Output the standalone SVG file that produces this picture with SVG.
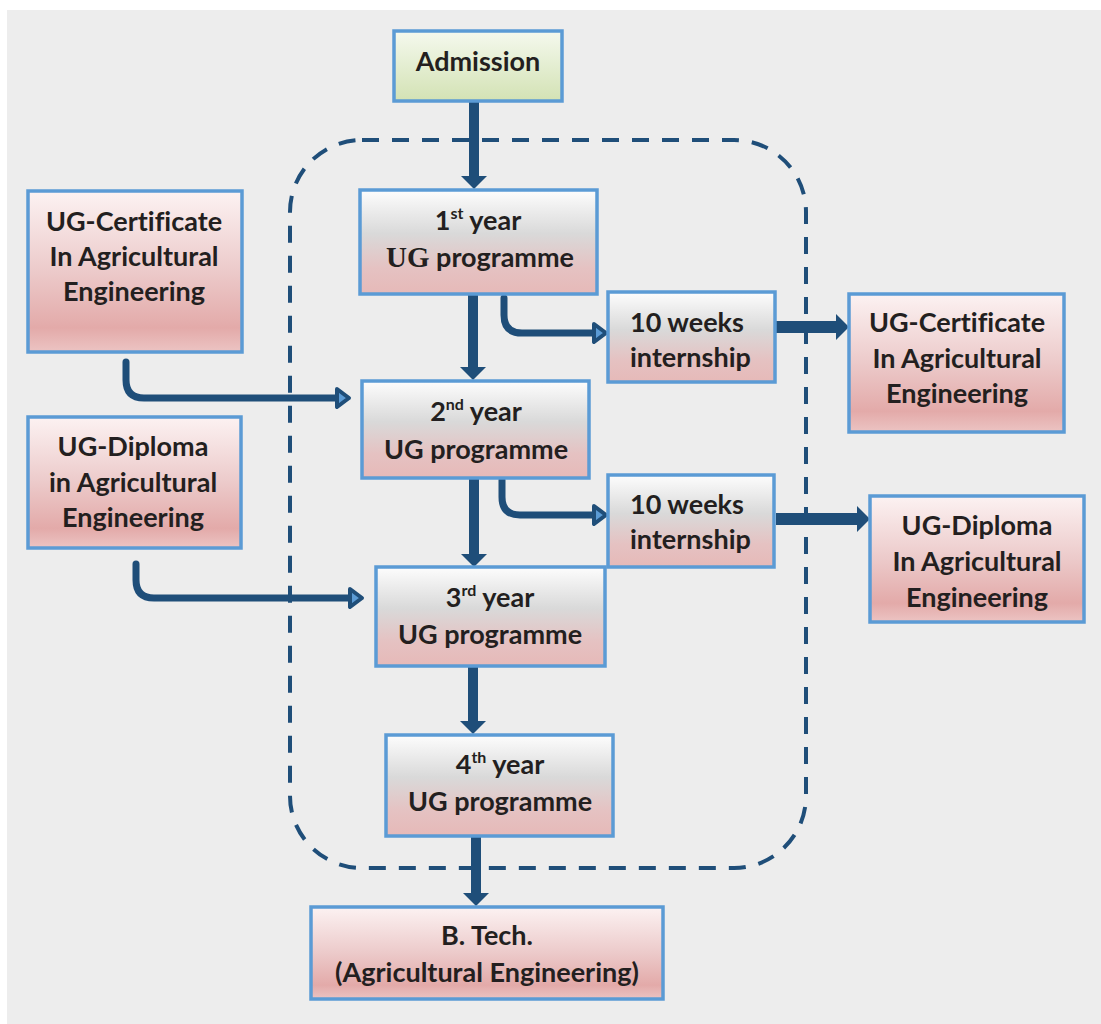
<svg xmlns="http://www.w3.org/2000/svg" width="1101" height="1024" viewBox="0 0 1101 1024">
<defs>
<linearGradient id="gPink" x1="0" y1="0" x2="0" y2="1">
<stop offset="0" stop-color="#fcf2f2"/>
<stop offset="0.5" stop-color="#eccaca"/>
<stop offset="0.85" stop-color="#e3aaa9"/>
<stop offset="1" stop-color="#ecc4c3"/>
</linearGradient>
<linearGradient id="gYear" x1="0" y1="0" x2="0" y2="1">
<stop offset="0" stop-color="#fdfdfd"/>
<stop offset="0.42" stop-color="#d9d9d9"/>
<stop offset="0.75" stop-color="#e5c2c2"/>
<stop offset="1" stop-color="#e6b9b8"/>
</linearGradient>
<linearGradient id="gGreen" x1="0" y1="0" x2="0" y2="1">
<stop offset="0" stop-color="#f5f9ee"/>
<stop offset="1" stop-color="#d3e2b4"/>
</linearGradient>
<marker id="thick" markerUnits="userSpaceOnUse" markerWidth="14" markerHeight="26" refX="0" refY="13" orient="auto" overflow="visible">
<path d="M0,0 L13,13 L0,26 Z" fill="#1f4e79"/>
</marker>
<marker id="open" markerUnits="userSpaceOnUse" markerWidth="18" markerHeight="22" refX="1" refY="11" orient="auto" overflow="visible">
<path d="M1,2 L13,11 L1,20 Z" fill="#5b9bd5" stroke="#1f4e79" stroke-width="4" stroke-linejoin="round"/>
</marker>
</defs>
<style>
.box{stroke:#5b9bd5;stroke-width:3.5}
.pink{fill:url(#gPink)}
.year{fill:url(#gYear)}
.green{fill:url(#gGreen)}
text{font-family:"Lato","Liberation Sans",sans-serif;font-weight:700;font-size:27px;fill:#231f20;text-anchor:middle;font-variant-ligatures:none;font-feature-settings:"liga" 0}
tspan.serif{font-family:"Liberation Serif",serif}
.sup{font-size:16px}
.thk{stroke:#1f4e79;stroke-width:10;fill:none}
.thkh{stroke:#1f4e79;stroke-width:12;fill:none}
.cur{stroke:#1f4e79;stroke-width:7;fill:none;stroke-linecap:round}
.dash{stroke:#1f4e79;stroke-width:4;fill:none;stroke-dasharray:17 13}
</style>
<rect x="0" y="0" width="1101" height="1024" fill="#ffffff"/>
<rect x="7" y="10" width="1094" height="1014" fill="#ededed"/>
<rect class="dash" x="290" y="140" width="516" height="728" rx="72" ry="72"/>
<g id="connectors">
<line class="thk" x1="474" y1="101" x2="474" y2="176" marker-end="url(#thick)"/>
<line class="thk" x1="473" y1="294" x2="473" y2="367" marker-end="url(#thick)"/>
<line class="thk" x1="474" y1="478" x2="474" y2="554" marker-end="url(#thick)"/>
<line class="thk" x1="473" y1="667" x2="473" y2="721" marker-end="url(#thick)"/>
<line class="thk" x1="476" y1="835" x2="476" y2="893" marker-end="url(#thick)"/>
<line class="thkh" x1="776" y1="327" x2="836" y2="327" marker-end="url(#thick)"/>
<line class="thkh" x1="776" y1="519" x2="857" y2="519" marker-end="url(#thick)"/>
<path class="cur" d="M504,298 V315 Q504,333 522,333 H594" marker-end="url(#open)"/>
<path class="cur" d="M502,480 V497 Q502,515 520,515 H594" marker-end="url(#open)"/>
<path class="cur" d="M126,362 V380 Q126,398 144,398 H337" marker-end="url(#open)"/>
<path class="cur" d="M136,564 V580 Q136,598 154,598 H350" marker-end="url(#open)"/>
</g>
<g id="admission">
<rect class="box green" x="394" y="31" width="168" height="70"/>
<text x="478" y="71">Admission</text>
</g>
<g id="year1">
<rect class="box year" x="360" y="190" width="237" height="104"/>
<text x="478" y="230">1<tspan class="sup" dy="-11">st</tspan><tspan dy="11"> year</tspan></text>
<text x="480" y="267"><tspan class="serif" font-family="Liberation Serif, serif" font-size="29">UG</tspan> programme</text>
</g>
<g id="intern1">
<rect class="box year" x="608" y="292" width="167" height="90"/>
<text x="630" y="332" style="text-anchor:start">10 weeks</text>
<text x="630" y="367" style="text-anchor:start">internship</text>
</g>
<g id="cert_right">
<rect class="box pink" x="849" y="294" width="215" height="138"/>
<text x="957" y="332">UG-Certificate</text>
<text x="957" y="368">In Agricultural</text>
<text x="957" y="403">Engineering</text>
</g>
<g id="cert_left">
<rect class="box pink" x="28" y="191" width="214" height="161"/>
<text x="134" y="231">UG-Certificate</text>
<text x="134" y="266">In Agricultural</text>
<text x="134" y="301">Engineering</text>
</g>
<g id="year2">
<rect class="box year" x="362" y="381" width="227" height="97"/>
<text x="476" y="421">2<tspan class="sup" dy="-11">nd</tspan><tspan dy="11"> year</tspan></text>
<text x="476" y="459">UG programme</text>
</g>
<g id="dip_left">
<rect class="box pink" x="28" y="417" width="213" height="131"/>
<text x="133" y="456">UG-Diploma</text>
<text x="133" y="492">in Agricultural</text>
<text x="133" y="527">Engineering</text>
</g>
<g id="intern2">
<rect class="box year" x="608" y="475" width="166" height="92"/>
<text x="630" y="514" style="text-anchor:start">10 weeks</text>
<text x="630" y="549" style="text-anchor:start">internship</text>
</g>
<g id="dip_right">
<rect class="box pink" x="870" y="496" width="214" height="126"/>
<text x="977" y="535">UG-Diploma</text>
<text x="977" y="571">In Agricultural</text>
<text x="977" y="607">Engineering</text>
</g>
<g id="year3">
<rect class="box year" x="376" y="567" width="229" height="99"/>
<text x="490" y="607">3<tspan class="sup" dy="-11">rd</tspan><tspan dy="11"> year</tspan></text>
<text x="490" y="644">UG programme</text>
</g>
<g id="year4">
<rect class="box year" x="386" y="735" width="227" height="101"/>
<text x="500" y="774">4<tspan class="sup" dy="-11">th</tspan><tspan dy="11"> year</tspan></text>
<text x="500" y="811">UG programme</text>
</g>
<g id="btech">
<rect class="box pink" x="311" y="907" width="352" height="92"/>
<text x="487" y="945">B. Tech.</text>
<text x="487" y="982">(Agricultural Engineering)</text>
</g>
</svg>
